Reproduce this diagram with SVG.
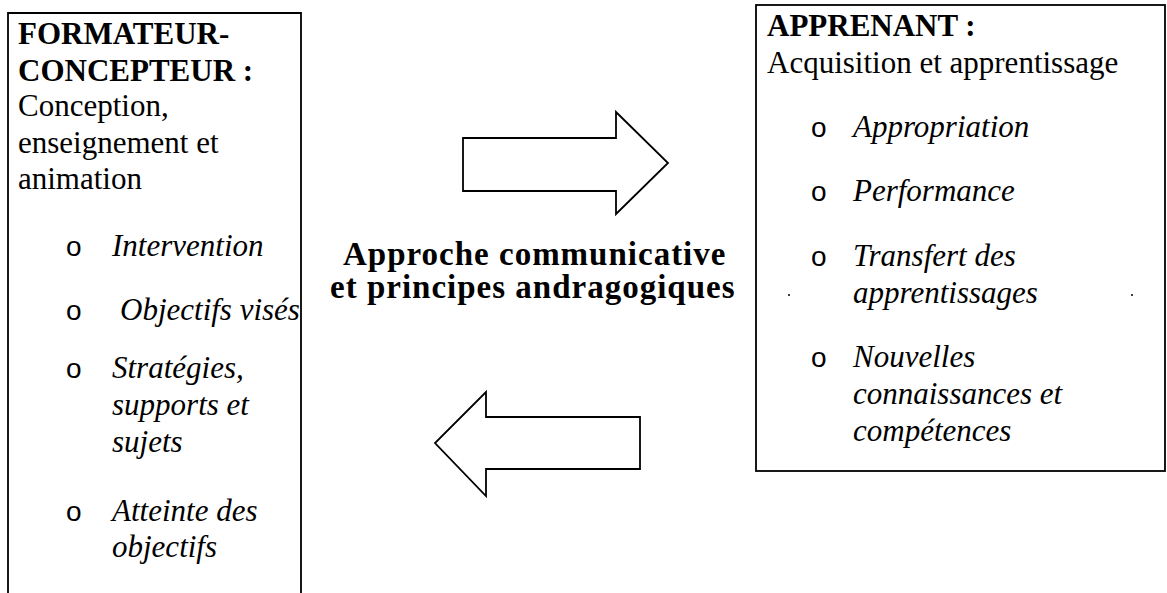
<svg xmlns="http://www.w3.org/2000/svg" width="1167" height="593" viewBox="0 0 1167 593">
  <style>
    .frame { fill: none; stroke: #000; stroke-width: 1.8; }
    .arrow { fill: #fff; stroke: #000; stroke-width: 1.8; stroke-linejoin: miter; }
    text { font-family: "Liberation Serif", "Times New Roman", serif; fill: #000; }
    .head { font-size: 31px; font-weight: bold; }
    .body { font-size: 31px; }
    .item { font-size: 31px; font-style: italic; }
    .bullet { font-family: "Liberation Sans", Arial, sans-serif; font-size: 28px; font-weight: 300; }
    .mid { font-size: 33px; font-weight: bold; letter-spacing: 1px; }
  </style>
  <rect width="1167" height="593" fill="#fff"/>

  <!-- Trainer / designer box (runs off the bottom of the page) -->
  <g id="formateur">
    <path class="frame" d="M8 593 V13 H301 V593"/>
    <text class="head" x="18" y="44">FORMATEUR-</text>
    <text class="head" x="18" y="81">CONCEPTEUR :</text>
    <text class="body" x="18" y="116">Conception,</text>
    <text class="body" x="18" y="153">enseignement et</text>
    <text class="body" x="18" y="189">animation</text>
    <text class="bullet" x="66" y="256">o</text>
    <text class="item" x="112" y="256">Intervention</text>
    <text class="bullet" x="66" y="320">o</text>
    <text class="item" x="120" y="320">Objectifs visés</text>
    <text class="bullet" x="66" y="378">o</text>
    <text class="item" x="112" y="378">Stratégies,</text>
    <text class="item" x="112" y="415">supports et</text>
    <text class="item" x="112" y="452">sujets</text>
    <text class="bullet" x="66" y="521">o</text>
    <text class="item" x="112" y="521">Atteinte des</text>
    <text class="item" x="112" y="557">objectifs</text>
  </g>

  <!-- Learner box -->
  <g id="apprenant">
    <rect class="frame" x="756" y="5" width="409" height="466"/>
    <text class="head" x="767" y="36">APPRENANT :</text>
    <text class="body" x="767" y="73">Acquisition et apprentissage</text>
    <text class="bullet" x="811" y="137">o</text>
    <text class="item" x="853" y="137">Appropriation</text>
    <text class="bullet" x="811" y="201">o</text>
    <text class="item" x="853" y="201">Performance</text>
    <text class="bullet" x="811" y="266">o</text>
    <text class="item" x="853" y="266">Transfert des</text>
    <text class="item" x="853" y="303">apprentissages</text>
    <text class="bullet" x="811" y="367">o</text>
    <text class="item" x="853" y="367">Nouvelles</text>
    <text class="item" x="853" y="404">connaissances et</text>
    <text class="item" x="853" y="441">compétences</text>
    <circle cx="789" cy="295" r="1" fill="#000"/>
    <circle cx="1132" cy="295" r="1" fill="#000"/>
  </g>

  <!-- Central label -->
  <g id="approche">
    <text class="mid" x="343" y="265">Approche  communicative</text>
    <text class="mid" x="330" y="298">et principes andragogiques</text>
  </g>

  <!-- Block arrows between the two boxes -->
  <g id="connectors">
    <path class="arrow" d="M463 138 H616 V112 L668 163 L616 214 V191 H463 Z"/>
    <path class="arrow" d="M640 417 H486 V392 L435 443 L486 496 V469 H640 Z"/>
  </g>
</svg>
